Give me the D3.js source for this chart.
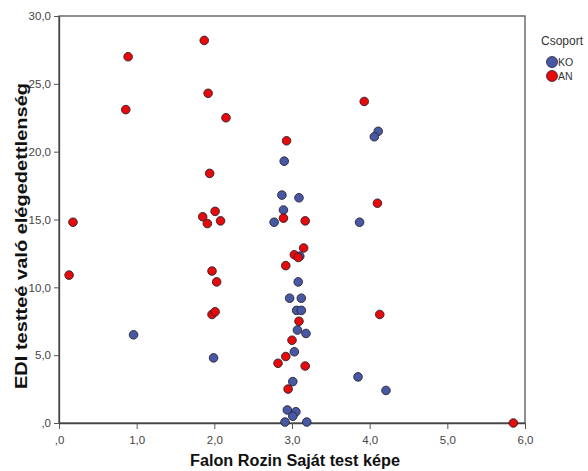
<!DOCTYPE html>
<html>
<head>
<meta charset="utf-8">
<script src="https://cdnjs.cloudflare.com/ajax/libs/d3/7.8.5/d3.min.js"></script>
<style>
  body { margin: 0; background: #fff; }
  text { font-family: "Liberation Sans", Arial, sans-serif; }
</style>
</head>
<body>
<div id="chart"></div>
<script>
// Csoport KO (blue) – [Falon Rozin, EDI]
const koPoints = [
  [0.96, 6.5], [1.99, 4.8], [4.11, 21.5], [4.06, 21.1], [3.87, 14.8],
  [2.90, 19.3], [2.87, 16.8], [3.09, 16.6], [2.89, 15.7], [2.77, 14.8],
  [3.10, 12.3], [3.08, 10.4], [2.97, 9.2], [3.12, 9.2], [3.06, 8.3],
  [3.12, 8.3], [3.07, 6.85], [3.18, 6.6], [3.03, 5.25], [3.01, 3.05],
  [2.94, 0.96], [3.05, 0.83], [3.01, 0.5], [2.91, 0.07], [3.19, 0.07],
  [3.85, 3.4], [4.21, 2.4]
];
// Csoport AN (red)
const anPoints = [
  [1.87, 28.2], [0.89, 27.0], [0.86, 23.1], [1.92, 24.3], [2.15, 22.5],
  [1.94, 18.4], [2.93, 20.8], [3.93, 23.7], [4.10, 16.2], [0.18, 14.8],
  [0.13, 10.9], [1.85, 15.2], [1.91, 14.7], [2.01, 15.6], [2.08, 14.9],
  [1.97, 11.2], [2.03, 10.4], [1.97, 8.0], [2.01, 8.2], [2.89, 15.1],
  [3.17, 14.9], [3.15, 12.9], [3.03, 12.4], [3.08, 12.2], [2.92, 11.6],
  [3.09, 7.5], [3.00, 6.1], [2.92, 4.9], [2.82, 4.4], [3.17, 4.2],
  [2.95, 2.5], [4.13, 8.0], [5.85, 0.0]
];
const xTicks = [0, 1, 2, 3, 4, 5, 6];
const yTicks = [0, 5, 10, 15, 20, 25, 30];
const groups = [
  { name: "KO", color: "#4759a5", points: koPoints },
  { name: "AN", color: "#e60a0a", points: anPoints }
];

const width = 588, height = 471;
const plot = { left: 59, right: 525, top: 16, bottom: 423 };

const svg = d3.select("#chart").append("svg")
  .attr("width", width).attr("height", height);

const x = d3.scaleLinear().domain([0, 6]).range([plot.left, plot.right]);
const y = d3.scaleLinear().domain([0, 30]).range([plot.bottom, plot.top]);

const fmt = v => {
  const s = v.toFixed(1).replace(".", ",");
  return s.startsWith("0,") ? s.slice(1) : s;
};

// frame
svg.append("rect")
  .attr("x", plot.left).attr("y", plot.top)
  .attr("width", plot.right - plot.left).attr("height", plot.bottom - plot.top)
  .attr("fill", "none").attr("stroke", "#555").attr("stroke-width", 1.3);

// axes
const xAxis = svg.append("g")
  .attr("transform", `translate(0,${plot.bottom})`)
  .call(d3.axisBottom(x).tickValues(xTicks).tickFormat(fmt).tickSize(6).tickSizeOuter(0));
const yAxis = svg.append("g")
  .attr("transform", `translate(${plot.left},0)`)
  .call(d3.axisLeft(y).tickValues(yTicks).tickFormat(fmt).tickSize(5).tickSizeOuter(0));
[xAxis, yAxis].forEach(a => {
  a.select(".domain").attr("stroke", "#444").attr("stroke-width", 1.3);
  a.selectAll(".tick line").attr("stroke", "#555");
  a.selectAll(".tick text").attr("fill", "#444").attr("font-size", 11.5)
    .attr("font-family", "'Liberation Sans', Arial, sans-serif");
});
xAxis.selectAll(".tick text").attr("dy", "1.05em");

// points
groups.forEach(g => {
  svg.append("g").selectAll("circle")
    .data(g.points).join("circle")
    .attr("cx", d => x(d[0])).attr("cy", d => y(d[1]))
    .attr("r", 4.3)
    .attr("fill", g.color)
    .attr("stroke", "#2a2030").attr("stroke-width", 0.9);
});

// axis titles
svg.append("text")
  .attr("x", 295).attr("y", 466)
  .attr("text-anchor", "middle").attr("font-size", 16).attr("font-weight", "bold")
  .attr("fill", "#111")
  .attr("textLength", 210).attr("lengthAdjust", "spacingAndGlyphs")
  .text("Falon Rozin Saját test képe");
svg.append("text")
  .attr("transform", `translate(27,236) rotate(-90)`)
  .attr("text-anchor", "middle").attr("font-size", 16).attr("font-weight", "bold")
  .attr("fill", "#111")
  .attr("textLength", 306).attr("lengthAdjust", "spacingAndGlyphs")
  .text("EDI testteé való elégedettlenség");

// legend
const legend = svg.append("g");
legend.append("text").attr("x", 541).attr("y", 45)
  .attr("font-size", 12).attr("fill", "#333").text("Csoport");
groups.forEach((g, i) => {
  const ly = 62 + i * 14;
  legend.append("circle").attr("cx", 552).attr("cy", ly).attr("r", 5.5)
    .attr("fill", g.color).attr("stroke", "#2a2030").attr("stroke-width", 0.8);
  legend.append("text").attr("x", 558).attr("y", ly + 4)
    .attr("font-size", 10.5).attr("fill", "#333").text(g.name);
});
</script>
</body>
</html>
